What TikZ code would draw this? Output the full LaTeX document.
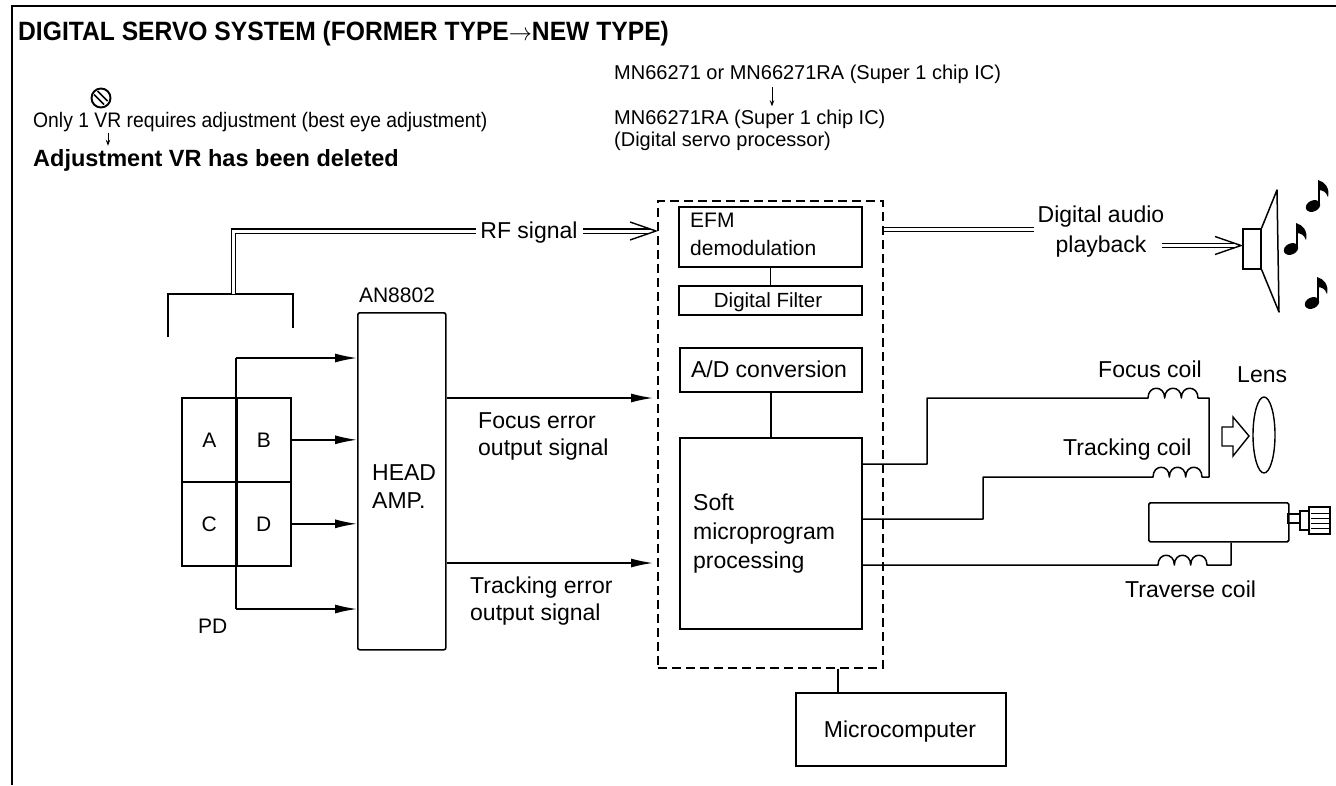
\documentclass[tikz,border=0pt]{standalone}
\usepackage{fontspec}
\setmainfont{Liberation Sans}
\usetikzlibrary{arrows.meta,calc,shapes.geometric}
\newcommand\fsz[2]{\fontsize{#1}{#2}\selectfont}
% eighth note: head centre (#1,#2)
\newcommand\musicnote[2]{%
  \fill[rotate around={25:(#1,#2)}] (#1,#2) ellipse (7.5pt and 5.5pt);
  \draw[line width=2.2pt] (#1+6,#2-1) -- (#1+6,#2-25);
  \fill (#1+5,#2-26) .. controls (#1+12,#2-24) and (#1+17,#2-18) .. (#1+15,#2-9)
        .. controls (#1+13,#2-14) and (#1+10,#2-16) .. (#1+5,#2-16) -- cycle;}
\begin{document}
\begin{tikzpicture}[x=1pt,y=-1pt,
  lbl/.style={inner sep=0pt, anchor=base west, font=\fsz{23}{28}},
  lblc/.style={inner sep=0pt, anchor=base, font=\fsz{23}{28}},
  small/.style={inner sep=0pt, anchor=base west, font=\fsz{20}{24}},
  box/.style={draw, line width=1.6pt, inner sep=0pt, anchor=north west},
  procbox/.style={draw, line width=1.7pt, dash pattern=on 9pt off 5pt, inner sep=0pt, anchor=north west},
  wire/.style={line width=1.5pt},
  sig/.style={wire, -{Latex[length=22pt,width=9pt]}},
  thinarrow/.style={line width=0.9pt, -{Stealth[length=6pt,width=4.5pt]}},
  dbl/.style={double, double distance=3pt, line width=1.2pt},
  chev/.style={line width=1.4pt, line join=miter},
]
\useasboundingbox (0,0) rectangle (1336,785);
\fill[white] (0,0) rectangle (1336,785);

% frame
\draw[line width=2pt] (12,785) -- (12,6) -- (1336,6);

% heading
\node[inner sep=0pt, anchor=base west, font=\bfseries\fsz{26.5}{30}] (title) at (18,40)
  {\scalebox{0.93}[1]{DIGITAL SERVO SYSTEM (FORMER TYPE$\rightarrow$NEW TYPE)}};

% "no adjustment" sign
\node[draw, circle, line width=1.9pt, minimum size=19pt, inner sep=0pt] (nosign) at (101,98) {};
\draw[line width=1.5pt] (97.5,91) -- (107.5,101);
\draw[line width=1.5pt] (94,94.5) -- (104,104.5);

\node[small] (vrnote) at (33,127) {\scalebox{0.92}[1]{\fsz{21}{24}Only 1 VR requires adjustment (best eye adjustment)}};
\node[inner sep=0pt, anchor=base west, font=\bfseries\fsz{23.5}{27}] (vrdel) at (33,166) {Adjustment VR has been deleted};
\coordinate (vrx) at (108,0);
\draw[thinarrow] ([yshift=-1pt]vrnote.south -| vrx) -- ([yshift=3pt]vrdel.north -| vrx);

% processor IC captions
\node[small] (mnold) at (614,79) {MN66271 or MN66271RA (Super 1 chip IC)};
\node[small] (mnnew) at (614,124) {MN66271RA (Super 1 chip IC)};
\node[small] (mnrole) at (614,146) {(Digital servo processor)};
\coordinate (mnx) at (772,0);
\draw[thinarrow] ([yshift=-4pt]mnold.south -| mnx) -- ([yshift=3pt]mnnew.north -| mnx);

% digital servo processor
\node[procbox, minimum width=225pt, minimum height=467pt] (proc) at (657,200) {};
\node[box, minimum width=183pt, minimum height=60pt] (efm) at (678,206) {};
\node[lbl, font=\fsz{21}{24}] (efm1) at (690,227) {EFM};
\node[lbl, font=\fsz{21}{24}] (efm2) at (690,255) {demodulation};
\node[box, minimum width=183pt, minimum height=29pt] (filt) at (678,285) {};
\node[inner sep=0pt, anchor=base, font=\fsz{20.5}{24}] (filtt) at (768,307) {Digital Filter};
\draw[wire] (efm.south) -- (filt.north);
\node[box, minimum width=182pt, minimum height=44pt] (adc) at (679,347) {};
\node[lblc] (adct) at (769,377) {A/D conversion};
\node[box, minimum width=182pt, minimum height=191pt] (soft) at (679,437) {};
\draw[wire] (adc.south) -- (soft.north);
\node[lbl] (soft1) at (693,510) {Soft};
\node[lbl] (soft2) at (693,539) {microprogram};
\node[lbl] (soft3) at (693,568) {processing};

% microcomputer
\node[box, minimum width=210pt, minimum height=73pt] (micro) at (795,692) {};
\node[lblc] (microt) at (900,737) {Microcomputer};
\coordinate (mcx) at (838,0);
\draw[wire] (proc.south -| mcx) -- (micro.north -| mcx);

% head amplifier
\node[inner sep=0pt, anchor=base, font=\fsz{21}{24}] (an) at (397,302) {AN8802};
\node[box, rounded corners=2pt, minimum width=88pt, minimum height=337pt] (head) at (357,312) {};
\node[lbl] (head1) at (372,480) {HEAD};
\node[lbl] (head2) at (372,508) {AMP.};

% photo detector
\node[box, minimum width=55pt, minimum height=84pt] (cA) at (181,397) {};
\node[box, minimum width=54pt, minimum height=84pt] (cB) at (236,397) {};
\node[box, minimum width=55pt, minimum height=84pt] (cC) at (181,481) {};
\node[box, minimum width=54pt, minimum height=84pt] (cD) at (236,481) {};
\node[inner sep=0pt, font=\fsz{21}{24}] (lA) at (cA.center) {A};
\node[inner sep=0pt, font=\fsz{21}{24}] (lB) at (cB.center) {B};
\node[inner sep=0pt, font=\fsz{21}{24}] (lC) at (cC.center) {C};
\node[inner sep=0pt, font=\fsz{21}{24}] (lD) at (cD.center) {D};
\node[inner sep=0pt, anchor=base west, font=\fsz{21}{24}] (pdl) at (198,633) {PD};
\coordinate (ptop) at (236,358);
\coordinate (pbot) at (236,609);
\draw[wire] (ptop) -- (pbot);
\draw[sig] (ptop) -- (ptop -| head.west);
\draw[sig] (pbot) -- (pbot -| head.west);
\draw[sig] (cB.east) -- (cB.east -| head.west);
\draw[sig] (cD.east) -- (cD.east -| head.west);

% pickup and RF signal
\draw[wire] (168,337) -- (168,294) -- (293,294) -- (293,328);
\coordinate (pick) at (233.5,294);
\node[lblc] (rf) at (529,238) {RF signal};
\coordinate (rfy) at (0,231);
\draw[dbl] (pick) |- ([xshift=-4pt]rf.west |- rfy);
\draw[dbl] ([xshift=5pt]rf.east |- rfy) -- ([xshift=-7pt]proc.west |- rfy);
\draw[chev] ([xshift=-27pt,yshift=9pt]proc.west |- rfy) -- ([xshift=-1pt]proc.west |- rfy)
  -- ([xshift=-27pt,yshift=-9pt]proc.west |- rfy);

% error signals
\coordinate (fey) at (0,398);
\coordinate (tey) at (0,563);
\draw[sig] (head.east |- fey) -- ([xshift=-4pt]proc.west |- fey);
\draw[sig] (head.east |- tey) -- ([xshift=-4pt]proc.west |- tey);
\node[lbl] (fe1) at (478,428) {Focus error};
\node[lbl] (fe2) at (478,455) {output signal};
\node[lbl] (te1) at (470,593) {Tracking error};
\node[lbl] (te2) at (470,620) {output signal};

% audio output
\node[lblc] (da1) at (1101,222) {Digital audio};
\node[lblc] (da2) at (1101,252) {playback};
\coordinate (day) at (0,229.5);
\coordinate (pby) at (0,245.5);
\draw[dbl] (proc.east |- day) -- ([xshift=-4pt]da1.west |- day);
\draw[wire] ([yshift=4pt]proc.east |- day) -- ([yshift=-4pt]proc.east |- day);
\node[box, minimum width=18pt, minimum height=40pt] (spk) at (1242,228) {};
\draw[dbl] ([xshift=15pt]da2.east |- pby) -- ([xshift=-7pt]spk.west |- pby);
\draw[chev] ([xshift=-27pt,yshift=9pt]spk.west |- pby) -- ([xshift=-1pt]spk.west |- pby)
  -- ([xshift=-27pt,yshift=-9pt]spk.west |- pby);
\draw[wire, line join=round] (spk.north east) -- (1277,190) -- (1279,312) -- (spk.south east);
\musicnote{1313}{206}
\musicnote{1291}{249}
\musicnote{1312}{303}

% focus / tracking coils
\node[lbl] (fcl) at (1098,377) {Focus coil};
\node[lbl] (lensl) at (1237,382) {Lens};
\node[lbl] (tcl) at (1063,455) {Tracking coil};
\coordinate (fy) at (0,464);
\coordinate (tky) at (0,519);
\draw[wire, line join=round] (soft.east |- fy) -| (927,398) -- (1148,398)
  \foreach \i in {1,2,3} { .. controls +(0,-13) and +(0,-13) .. ++(16.67,0) }
  -- (1209,398) -- (1209,477) -- (1202,477)
  \foreach \i in {1,2,3} { .. controls +(0,-13) and +(0,-13) .. ++(-16.33,0) }
  -- (983,477) |- (soft.east |- tky);
\draw[line width=1.4pt, line join=miter] (1222,427) -- (1233,427) -- (1233,417) -- (1249,436)
  -- (1233,456) -- (1233,446) -- (1222,446) -- cycle;
\node[draw, ellipse, line width=1.4pt, minimum width=22pt, minimum height=76pt, inner sep=0pt] (lens) at (1264,435) {};

% traverse motor
\node[box, rounded corners=1.5pt, minimum width=140pt, minimum height=39pt] (motor) at (1148,502) {};
\draw[line width=1.2pt] (1288,514) rectangle (1300,523);
\draw[line width=1.2pt] (1300,511) rectangle (1309,530);
\draw[line width=1.2pt] (1309,507) rectangle (1330,534);
\foreach \yy in {513,518,523,528} \draw[line width=1pt] (1311,\yy) -- (1330,\yy);
\node[lbl] (trl) at (1125,597) {Traverse coil};
\coordinate (ty) at (0,565);
\coordinate (trx) at (1231,565);
\draw[wire, line join=round] (soft.east |- ty) -- (1158,565)
  \foreach \i in {1,2,3} { .. controls +(0,-13) and +(0,-13) .. ++(16.33,0) }
  -- (trx) -- (trx |- motor.south);
\end{tikzpicture}
\end{document}
